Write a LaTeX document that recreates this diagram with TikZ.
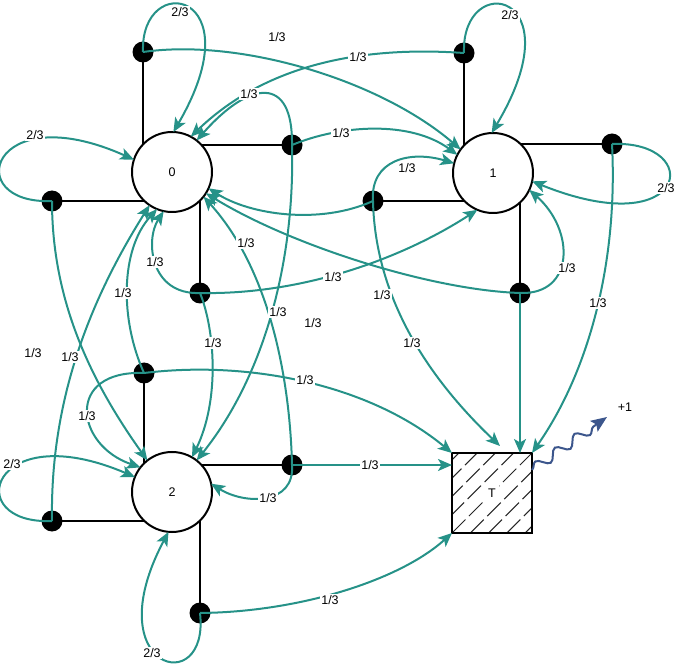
\documentclass[tikz,border=0pt]{standalone}
\usepackage{fontspec}
\setmainfont{Liberation Sans}
\usetikzlibrary{arrows.meta,decorations.pathmorphing}
\definecolor{tealc}{RGB}{38,146,136}
\definecolor{wavyc}{RGB}{60,86,140}
\begin{document}
\begin{tikzpicture}[x=1pt,y=-1pt,
  state/.style={circle,draw,line width=2pt,minimum size=80pt,inner sep=0pt,outer sep=0pt,fill=white,font=\fontsize{12.5}{14}\selectfont},
  act/.style={circle,fill=black,minimum size=21pt,inner sep=0pt,outer sep=0pt},
  link/.style={line width=2pt},
  tr/.style={draw=tealc,line width=2pt,-{Stealth[length=14pt,width=12pt,inset=3.5pt]}},
  lbl/.style={fill=white,inner sep=1pt,font=\fontsize{12.5}{14}\selectfont},
  tbox/.style={rectangle,draw,line width=2pt,minimum size=80pt,inner sep=0pt,outer sep=0pt,fill=white},
  hatchline/.style={line width=1pt,black!85,dash pattern=on 19pt off 5pt},
  ]
\useasboundingbox (0,0) rectangle (683,668);
% state centres
\coordinate (c0) at (172,172);
\coordinate (c1) at (493,173);
\coordinate (c2) at (172,492);
% action dots
\node[act] (a0t) at (143,52) {};
\node[act] (a0r) at (292,145) {};
\node[act] (a0l) at (52,201) {};
\node[act] (a0b) at (200,293) {};
\node[act] (a1t) at (464,53) {};
\node[act] (a1r) at (612,144) {};
\node[act] (a1l) at (373,201) {};
\node[act] (a1b) at (520,293) {};
\node[act] (a2t) at (144,373) {};
\node[act] (a2r) at (292,465) {};
\node[act] (a2l) at (52,521) {};
\node[act] (a2b) at (200,613) {};
% black links
\draw[link] (a0t.center) -- (a0t.center |- c0);
\draw[link] (a0r.center) -- (a0r.center -| c0);
\draw[link] (a0l.center) -- (a0l.center -| c0);
\draw[link] (a0b.center) -- (a0b.center |- c0);
\draw[link] (a1t.center) -- (a1t.center |- c1);
\draw[link] (a1r.center) -- (a1r.center -| c1);
\draw[link] (a1l.center) -- (a1l.center -| c1);
\draw[link] (a1b.center) -- (a1b.center |- c1);
\draw[link] (a2t.center) -- (a2t.center |- c2);
\draw[link] (a2r.center) -- (a2r.center -| c2);
\draw[link] (a2l.center) -- (a2l.center -| c2);
\draw[link] (a2b.center) -- (a2b.center |- c2);
% states
\node[state] (s0) at (c0) {0};
\node[state] (s1) at (c1) {1};
\node[state] (s2) at (c2) {2};
% terminal
\node[tbox] (T) at (492,493) {};
\begin{scope}
\clip (T.south west) rectangle (T.north east);
\foreach \i in {-4,...,4} \draw[hatchline] ({452+18.3*\i},533) -- ++(90,-90);
\end{scope}
\draw[line width=2pt] (T.south west) rectangle (T.north east);
\node[fill=white,inner sep=3.5pt,font=\fontsize{12.5}{14}\selectfont] (Tl) at (T.center) {T};
\coordinate (tin) at (500,446);
\coordinate (wend) at (607,417);
% transitions
\draw[tr] (a0t.center) .. controls (140,-30) and (256,-10) .. (s0.88);
\draw[tr] (a0t.center) .. controls (240,38) and (380,80) .. (s1.144);
\draw[tr] (a1t.center) .. controls (350,45) and (260,70) .. (s0.62);
\draw[tr] (a0r.center) .. controls (340,125) and (410,120) .. (s1.153);
\draw[tr] (a0r.center) .. controls (293,75) and (250,80) .. (s0.52);
\draw[tr] (a0r.center) .. controls (295,260) and (265,375) .. (s2.52);
\draw[tr] (a0l.center) .. controls (-40,205) and (-10,95) .. (s0.162);
\draw[tr] (a0l.center) .. controls (52,300) and (90,380) .. (s2.128);
\draw[tr] (a2l.center) .. controls (-40,525) and (-10,415) .. (s2.158);
\draw[tr] (a2l.center) .. controls (50,400) and (90,300) .. (s0.236);
\draw[tr] (a2t.center) .. controls (120,320) and (120,250) .. (s0.248);
\draw[tr] (a0b.center) .. controls (150,295) and (145,240) .. (s0.258);
\draw[tr] (a0b.center) .. controls (300,295) and (400,260) .. (s1.247);
\draw[tr] (a0b.center) .. controls (215,330) and (220,400) .. (s2.60);
\draw[tr] (a1t.center) .. controls (461,-30) and (577,-10) .. (s1.92);
\draw[tr] (a1r.center) .. controls (705,140) and (690,245) .. (s1.348);
\draw[tr] (a1r.center) .. controls (618,260) and (590,370) .. (T.north east);
\draw[tr] (a1b.center) -- (a1b.center |- T.north);
\draw[tr] (a1b.center) .. controls (575,295) and (575,230) .. (s1.335);
\draw[tr] (a1b.center) .. controls (430,290) and (290,245) .. (s0.328);
\draw[tr] (a1l.center) .. controls (320,225) and (250,215) .. (s0.336);
\draw[tr] (a1l.center) .. controls (370,160) and (410,150) .. (s1.166);
\draw[tr] (a1l.center) .. controls (375,290) and (420,370) .. (tin);
\draw[tr] (a2t.center) .. controls (65,370) and (75,445) .. (s2.142);
\draw[tr] (a2t.center) .. controls (250,360) and (370,385) .. (T.north west);
\draw[tr] (a2r.center) -- (a2r.center -| T.west);
\draw[tr] (a2r.center) .. controls (295,505) and (245,505) .. (s2.12);
\draw[tr] (a2r.center) .. controls (290,380) and (270,270) .. (s0.322);
\draw[tr] (a2b.center) .. controls (210,700) and (95,670) .. (s2.265);
\draw[tr] (a2b.center) .. controls (300,612) and (400,580) .. (T.south west);
% reward
\draw[wavyc,line width=2pt,decorate,decoration={snake,segment length=24pt,amplitude=5pt,post length=13pt},-{Stealth[length=16pt,width=13pt,inset=3pt]}] (T.30) -- (wend);
\node[lbl] (rw) at (625,407) {+1};
% labels
\node[lbl] (l01) at (180,12) {2/3};
\node[lbl] (l02) at (510,15) {2/3};
\node[lbl] (l03) at (35,135) {2/3};
\node[lbl] (l04) at (666,188) {2/3};
\node[lbl] (l05) at (12,464) {2/3};
\node[lbl] (l06) at (152,653) {2/3};
\node[lbl] (l07) at (277,37) {1/3};
\node[lbl] (l08) at (358,57) {1/3};
\node[lbl] (l09) at (249,94) {1/3};
\node[lbl] (l10) at (341,133) {1/3};
\node[lbl] (l11) at (407,168) {1/3};
\node[lbl] (l12) at (567,268) {1/3};
\node[lbl] (l13) at (155,262) {1/3};
\node[lbl] (l14) at (246,243) {1/3};
\node[lbl] (l15) at (333,277) {1/3};
\node[lbl] (l16) at (382,295) {1/3};
\node[lbl] (l17) at (313,323) {1/3};
\node[lbl] (l18) at (278,312) {1/3};
\node[lbl] (l19) at (213,343) {1/3};
\node[lbl] (l20) at (412,343) {1/3};
\node[lbl] (l21) at (598,303) {1/3};
\node[lbl] (l22) at (123,293) {1/3};
\node[lbl] (l23) at (33,353) {1/3};
\node[lbl] (l24) at (70,357) {1/3};
\node[lbl] (l25) at (87,416) {1/3};
\node[lbl] (l26) at (305,380) {1/3};
\node[lbl] (l27) at (370,465) {1/3};
\node[lbl] (l28) at (268,498) {1/3};
\node[lbl] (l29) at (330,600) {1/3};
\end{tikzpicture}
\end{document}
